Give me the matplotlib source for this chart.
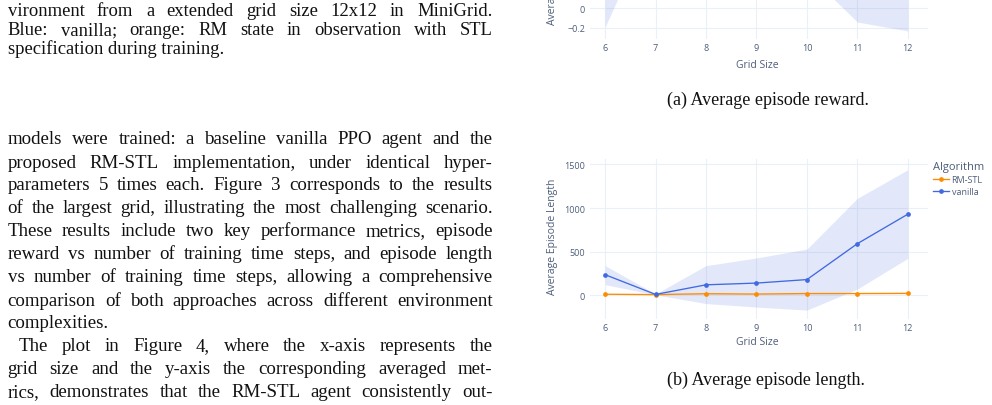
import numpy as np
import matplotlib
matplotlib.use('Agg')
import matplotlib.pyplot as plt
from matplotlib.lines import Line2D
from matplotlib.ticker import FuncFormatter

# Grid sizes on the x-axis
grid_sizes = [6, 7, 8, 9, 10, 11, 12]

# Average episode length (mean, lower, upper of shaded band)
len_vanilla = [236, 10, 120, 140, 180, 592, 930]
len_vanilla_lo = [122, 5, -95, -135, -170, 72, 424]
len_vanilla_hi = [340, 15, 340, 428, 530, 1112, 1440]
len_rmstl = [12, 8, 18, 14, 20, 20, 22]
len_rmstl_lo = [8, 5, 12, 9, 14, 15, 16]
len_rmstl_hi = [16, 11, 24, 19, 26, 25, 28]

# Average episode reward (upper part lies outside the crop)
rew_vanilla = [0.35, 0.97, 0.93, 0.90, 0.80, 0.45, 0.20]
rew_vanilla_lo = [-0.19, 0.945, 0.80, 0.72, 0.36, -0.14, -0.23]
rew_vanilla_hi = [0.89, 0.99, 1.0, 1.0, 1.0, 1.0, 0.63]
rew_rmstl = [0.97, 0.97, 0.96, 0.96, 0.96, 0.95, 0.95]
rew_rmstl_lo = [0.96, 0.96, 0.95, 0.95, 0.95, 0.94, 0.94]
rew_rmstl_hi = [0.98, 0.98, 0.97, 0.97, 0.97, 0.96, 0.96]

caption_lines = [
    "vironment from a extended grid size 12x12 in MiniGrid.",
    "Blue: vanilla; orange: RM state in observation with STL",
    "specification during training.",
]
body_lines = [
    "models were trained: a baseline vanilla PPO agent and the",
    "proposed RM-STL implementation, under identical hyper-",
    "parameters 5 times each. Figure 3 corresponds to the results",
    "of the largest grid, illustrating the most challenging scenario.",
    "These results include two key performance metrics, episode",
    "reward vs number of training time steps, and episode length",
    "vs number of training time steps, allowing a comprehensive",
    "comparison of both approaches across different environment",
    "complexities.",
    "The plot in Figure 4, where the x-axis represents the",
    "grid size and the y-axis the corresponding averaged met-",
    "rics, demonstrates that the RM-STL agent consistently out-",
]

W, H = 992, 406
BLUE = '#4169E1'
ORANGE = '#FF8C00'
GRID = '#EBF0F8'
TICK = '#4d5d79'
SANS = ['Open Sans', 'DejaVu Sans']
SERIF = 'Liberation Serif'

fig = plt.figure(figsize=(W / 100, H / 100), dpi=100)
renderer = fig.canvas.get_renderer()


def rect(l, t, r, b):
    return [l / W, 1 - b / H, (r - l) / W, (b - t) / H]


def put_line(text, x0, x1, base, size, justify=True):
    words = text.split(' ')
    if not justify or len(words) < 2:
        fig.text(x0 / W, 1 - base / H, text, fontsize=size, family=SERIF,
                 va='baseline', ha='left', color='#111111')
        return
    ts = [fig.text(0, 1 - base / H, w, fontsize=size, family=SERIF,
                   va='baseline', ha='left', color='#111111') for w in words]
    widths = [t.get_window_extent(renderer).width for t in ts]
    gap = (x1 - x0 - sum(widths)) / (len(words) - 1)
    x = x0
    for t, w in zip(ts, widths):
        t.set_x(x / W)
        x += w + gap


# left column text
left, right = 7.5, 492.5
for i, line in enumerate(caption_lines):
    put_line(line, left, right, 16.5 + 18.5 * i, 13.4,
             justify=(i < len(caption_lines) - 1))

for i, line in enumerate(body_lines):
    x0 = left + 11 if line.startswith('The plot') else left
    put_line(line, x0, right, 144.5 + 23 * i, 13.6,
             justify=line not in ('complexities.',))


def style(ax, ylim, yticks):
    ax.set_xlim(5.70, 12.40)
    ax.set_ylim(*ylim)
    ax.set_xticks(grid_sizes)
    ax.set_yticks(yticks)
    ax.grid(True, color=GRID, lw=0.8)
    ax.set_axisbelow(True)
    for s in ax.spines.values():
        s.set_visible(False)
    ax.tick_params(length=0, labelsize=6.5, labelcolor=TICK)
    ax.tick_params(axis='y', pad=3.6)
    ax.tick_params(axis='x', pad=3.2)
    for lab in ax.get_xticklabels() + ax.get_yticklabels():
        lab.set_family(SANS)


def fmt(v, pos):
    s = '%g' % round(v, 2)
    return s.replace('-', '\u2212')


def draw(ax, vals):
    for (m, lo, hi, c) in vals:
        ax.fill_between(grid_sizes, lo, hi, color=c, alpha=0.15, lw=0)
    for (m, lo, hi, c) in vals:
        ax.plot(grid_sizes, m, color=c, lw=0.95, marker='o', ms=2.4)


# (a) reward, mostly cropped at the top
ax_t = fig.add_axes(rect(590, -120, 928, 40))
draw(ax_t, [(rew_rmstl, rew_rmstl_lo, rew_rmstl_hi, ORANGE),
            (rew_vanilla, rew_vanilla_lo, rew_vanilla_hi, BLUE)])
style(ax_t, (-0.312, 1.313), np.arange(-0.2, 1.21, 0.2))
ax_t.yaxis.set_major_formatter(FuncFormatter(fmt))

# (b) episode length
ax_b = fig.add_axes(rect(590, 160, 928, 320))
draw(ax_b, [(len_rmstl, len_rmstl_lo, len_rmstl_hi, ORANGE),
            (len_vanilla, len_vanilla_lo, len_vanilla_hi, BLUE)])
style(ax_b, (-272, 1563), [0, 500, 1000, 1500])

lab = dict(fontsize=7.5, color=TICK, family=SANS, ha='center', va='center')
fig.text(757 / W, 1 - 66 / H, 'Grid Size', **lab)
fig.text(757 / W, 1 - 343 / H, 'Grid Size', **lab)
fig.text(552 / W, 1 + 35 / H, 'Average Episode Reward', rotation=90, **lab)
fig.text(552 / W, 1 - 236.5 / H, 'Average Episode Length', rotation=90, **lab)

handles = [Line2D([], [], color=ORANGE, lw=0.95, marker='o', ms=2.4),
           Line2D([], [], color=BLUE, lw=0.95, marker='o', ms=2.4)]
leg = fig.legend(handles, ['RM-STL', 'vanilla'], title='Algorithm',
                 loc='upper left', bbox_to_anchor=(933 / W, 1 - 162 / H),
                 frameon=False, fontsize=6.5, title_fontsize=8,
                 handlelength=1.8, handletextpad=0.25, labelspacing=0.35,
                 borderaxespad=0, borderpad=0, alignment='left')
for t in leg.get_texts() + [leg.get_title()]:
    t.set_family(SANS)
    t.set_color(TICK)

cap = dict(fontsize=13, family=SERIF, ha='center', va='baseline', color='#111111')
fig.text(768 / W, 1 - 105 / H, '(a) Average episode reward.', **cap)
fig.text(766 / W, 1 - 385 / H, '(b) Average episode length.', **cap)

fig.savefig('out.png', dpi=100)
